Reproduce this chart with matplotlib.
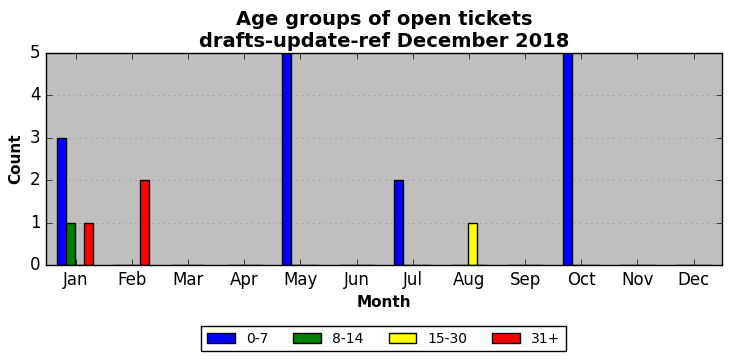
import numpy as np
import matplotlib
matplotlib.use("Agg")
import matplotlib.pyplot as plt

months = ["Jan", "Feb", "Mar", "Apr", "May", "Jun",
          "Jul", "Aug", "Sep", "Oct", "Nov", "Dec"]
groups = ["0-7", "8-14", "15-30", "31+"]
colors = ["blue", "green", "yellow", "red"]

age_0_7 = [3, 0, 0, 0, 5, 0, 2, 0, 0, 5, 0, 0]
age_8_14 = [1, 0, 0, 0, 0, 0, 0, 0, 0, 0, 0, 0]
age_15_30 = [0, 0, 0, 0, 0, 0, 0, 1, 0, 0, 0, 0]
age_31_plus = [1, 2, 0, 0, 0, 0, 0, 0, 0, 0, 0, 0]

series = [age_0_7, age_8_14, age_15_30, age_31_plus]

plt.style.use("classic")
fig = plt.figure(figsize=(7.32, 3.61), dpi=100, facecolor="white")
ax = fig.add_axes([0.0628, 0.266, 0.923, 0.587])
ax.set_facecolor("#bfbfbf")

x = np.arange(len(months))
w = 0.16
for i, (vals, lab, col) in enumerate(zip(series, groups, colors)):
    ax.bar(x + (i - 2) * w - 0.01, vals, width=w, align="edge", color=col,
           edgecolor="black", linewidth=1, label=lab)

ax.set_xlim(-0.53, 11.5)
ax.set_ylim(0, 5)
ax.set_xticks(x)
ax.set_xticklabels(months)
ax.yaxis.grid(True, linestyle=":", color="0.55")
ax.set_axisbelow(True)

ax.set_title("Age groups of open tickets\ndrafts-update-ref December 2018",
             fontsize=14, fontweight="bold", y=0.995)
ax.set_xlabel("Month", fontsize=11, fontweight="bold")
ax.set_ylabel("Count", fontsize=11, fontweight="bold")

ax.legend(loc="upper center", bbox_to_anchor=(0.5, -0.255), ncol=4,
          fontsize=10, frameon=True, fancybox=False, columnspacing=1.8)

fig.savefig("out.png", dpi=100, facecolor="white")
